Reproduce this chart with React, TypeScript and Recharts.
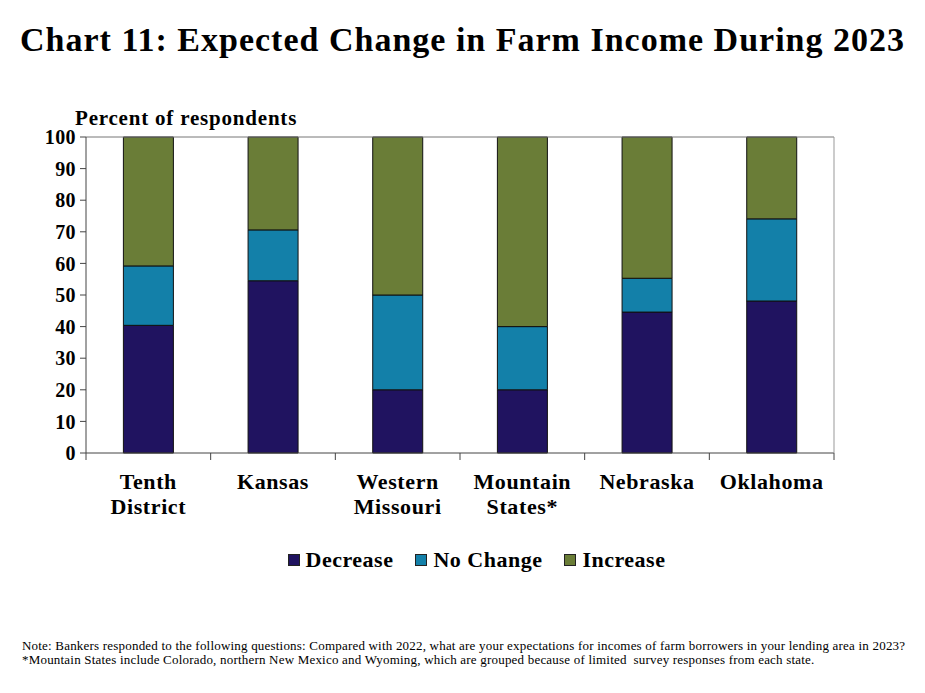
import { BarChart, Bar, XAxis, YAxis, ReferenceLine } from 'recharts';

// Expected change in farm income, percent of respondents
const REGIONS = ['Tenth District', 'Kansas', 'Western Missouri', 'Mountain States*', 'Nebraska', 'Oklahoma'];
const DECREASE = [40.4, 54.5, 20, 20, 44.6, 48.1];
const NO_CHANGE = [18.8, 16.1, 30, 20, 10.7, 26];
const INCREASE = [40.8, 29.4, 50, 60, 44.7, 25.9];
const Y_TICKS = [0, 10, 20, 30, 40, 50, 60, 70, 80, 90, 100];
const BAND_EDGES = [0, 1, 2, 3, 4, 5, 6];

const SERIF = '"Liberation Serif", "Times New Roman", serif';
const SERIES = [
    { key: 'decrease', name: 'Decrease', color: '#201360' },
    { key: 'noChange', name: 'No Change', color: '#1380A9' },
    { key: 'increase', name: 'Increase', color: '#6A7D37' },
];

if (typeof document !== 'undefined') document.body.style.margin = '0';

const data = REGIONS.map((region, i) => ({
    region,
    idx: i + 0.5,
    decrease: DECREASE[i],
    noChange: NO_CHANGE[i],
    increase: INCREASE[i],
}));

function RegionTick({ x, y, payload }: any) {
    const words = String(payload.value).split(' ');
    return (
        <text x={x} y={y} textAnchor="middle" fontFamily={SERIF} fontWeight={700} fontSize={22} letterSpacing={0.6} fill="#000">
            {words.map((w, i) => (
                <tspan key={i} x={x} dy={i === 0 ? 27 : 25}>{w}</tspan>
            ))}
        </text>
    );
}

const tickStyle = { fontFamily: SERIF, fontWeight: 700, fontSize: 20, letterSpacing: 0.4, fill: '#000' };

export default function App() {
    return (
        <div style={{ position: 'relative', width: 925, height: 693, background: '#fff', fontFamily: SERIF }}>
            <div style={{ position: 'absolute', top: 21, left: 0, width: 925, textAlign: 'center', fontSize: 34, letterSpacing: 1, fontWeight: 700 }}>
                Chart 11: Expected Change in Farm Income During 2023
            </div>
            <div style={{ position: 'absolute', top: 106, left: 75, fontSize: 21, letterSpacing: 0.8, fontWeight: 700 }}>
                Percent of respondents
            </div>
            <BarChart
                width={925}
                height={693}
                data={data}
                barCategoryGap="30%"
                margin={{ top: 137, right: 31, bottom: 180, left: 26 }}
                style={{ position: 'absolute', top: 0, left: 0 }}
            >
                <XAxis
                    xAxisId="a_edges"
                    type="number"
                    dataKey="idx"
                    domain={[0, 6]}
                    ticks={BAND_EDGES}
                    tickFormatter={() => ''}
                    height={1}
                    stroke="#444"
                    tickSize={7}
                />
                <XAxis
                    xAxisId="b_cat"
                    dataKey="region"
                    axisLine={false}
                    tickLine={false}
                    interval={0}
                    tick={<RegionTick />}
                    height={59}
                />
                <YAxis
                    yAxisId="left"
                    domain={[0, 100]}
                    ticks={Y_TICKS}
                    interval={0}
                    width={60}
                    stroke="#444"
                    tickSize={6}
                    tick={tickStyle}
                    tickMargin={4}
                />
                <YAxis
                    yAxisId="right"
                    orientation="right"
                    domain={[0, 100]}
                    ticks={Y_TICKS}
                    interval={0}
                    width={60}
                    stroke="#999"
                    tickSize={6}
                    tick={{ ...tickStyle, textAnchor: 'start' }}
                    tickMargin={12}
                />
                <ReferenceLine yAxisId="left" xAxisId="b_cat" y={100} stroke="#777" />
                {SERIES.map(s => (
                    <Bar
                        key={s.key}
                        xAxisId="b_cat"
                        yAxisId="left"
                        dataKey={s.key}
                        name={s.name}
                        stackId="a"
                        fill={s.color}
                        stroke="#111"
                        strokeWidth={1}
                        isAnimationActive={false}
                    />
                ))}
            </BarChart>
            <div style={{ position: 'absolute', top: 547, left: 14, width: 925, display: 'flex', justifyContent: 'center', gap: 22, fontSize: 22, letterSpacing: 0.5, fontWeight: 700 }}>
                {SERIES.map(s => (
                    <div key={s.key} style={{ display: 'flex', alignItems: 'center', gap: 6 }}>
                        <span style={{ width: 10, height: 10, background: s.color, border: '1px solid #222', display: 'inline-block' }} />
                        <span>{s.name}</span>
                    </div>
                ))}
            </div>
            <div style={{ position: 'absolute', top: 639, left: 22, fontSize: 13, letterSpacing: 0.2, lineHeight: '14px', color: '#000', whiteSpace: 'nowrap' }}>
                Note: Bankers responded to the following questions: Compared with 2022, what are your expectations for incomes of farm borrowers in your lending area in 2023?
                <br />
                *Mountain States include Colorado, northern New Mexico and Wyoming, which are grouped because of limited&nbsp; survey responses from each state.
            </div>
        </div>
    );
}
